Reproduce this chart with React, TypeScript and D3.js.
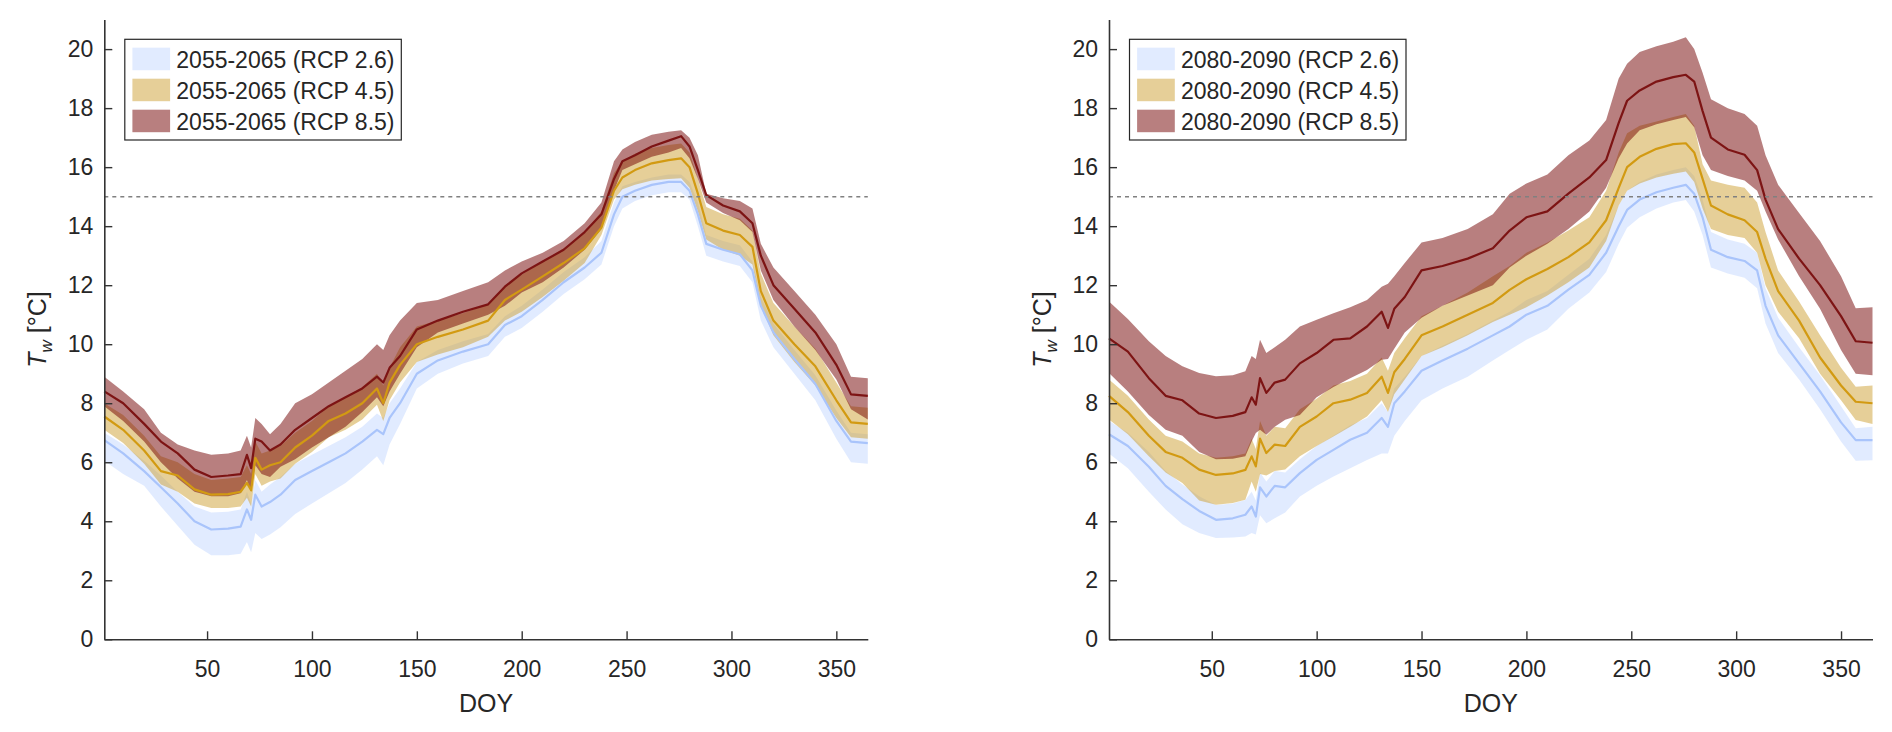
import React, { useEffect, useRef } from 'react';
import * as d3 from 'd3';

// day-of-year sampling shared by every series
const doy = [
  1, 10, 20, 28, 36, 44, 52, 60, 66, 69,
  71, 73, 76, 80, 85, 92, 100, 108, 116, 124,
  131, 134, 137, 142, 150, 160, 172, 184, 192, 200,
  210, 220, 230, 238, 244, 248, 254, 262, 270, 276,
  280, 284, 288, 296, 304, 310, 314, 320, 330, 340,
  350, 357, 365,
];

const xTicks = [50, 100, 150, 200, 250, 300, 350];
const yTicks = [0, 2, 4, 6, 8, 10, 12, 14, 16, 18, 20];
const threshold = 15;

// ---- 2055-2065 ----
const e26Mean = [
  6.75, 6.3, 5.7, 5.15, 4.6, 4.0, 3.72, 3.75, 3.82, 4.4,
  4.05, 4.9, 4.5, 4.65, 4.9, 5.4, 5.7, 6.0, 6.3, 6.7,
  7.1, 6.95, 7.5, 8.0, 9.0, 9.45, 9.75, 10.0, 10.65, 10.95,
  11.5, 12.1, 12.6, 13.1, 14.4, 15.0, 15.2, 15.4, 15.5, 15.5,
  15.2, 14.4, 13.4, 13.2, 13.05, 12.5, 11.3, 10.4, 9.5, 8.65,
  7.4, 6.7, 6.65,
];
const e26Hi = [
  7.0, 6.6, 6.05, 5.55, 5.0, 4.5, 4.3, 4.32, 4.4, 5.0,
  4.6, 5.4, 5.0, 5.25, 5.5, 5.95, 6.25, 6.55, 6.85, 7.2,
  7.65, 7.5, 8.0, 8.5, 9.4, 9.8, 10.1, 10.35, 10.95, 11.3,
  11.85, 12.45, 12.95, 13.5, 14.8, 15.35, 15.5, 15.65, 15.75, 15.75,
  15.5, 14.8, 13.7, 13.5, 13.35, 12.8, 11.6, 10.7, 9.8, 8.95,
  7.75, 7.0, 6.95,
];
const e26Lo = [
  6.05, 5.6, 5.2, 4.5, 3.85, 3.2, 2.85, 2.85, 2.9, 3.3,
  2.95, 3.6, 3.4, 3.55, 3.8, 4.25, 4.6, 4.95, 5.3, 5.75,
  6.2, 5.9, 6.6, 7.3, 8.5, 9.0, 9.35, 9.6, 10.25, 10.55,
  11.1, 11.7, 12.2, 12.7, 14.0, 14.6, 14.85, 15.05, 15.15, 15.15,
  14.9, 14.0, 13.0, 12.8, 12.65, 12.1, 10.8, 9.9, 9.0, 8.1,
  6.8, 6.0, 5.95,
];
const e45Mean = [
  7.55, 7.1, 6.4, 5.7, 5.55, 5.08, 4.9, 4.92, 5.0, 5.3,
  5.05, 6.15, 5.75, 5.9, 6.0, 6.5, 6.9, 7.4, 7.65, 8.0,
  8.5, 8.0, 8.7, 9.3, 10.0, 10.25, 10.5, 10.8, 11.5, 11.85,
  12.3, 12.75, 13.25, 13.95, 15.2, 15.65, 15.9, 16.13, 16.24, 16.3,
  16.0, 15.1, 14.1, 13.85, 13.7, 13.3, 11.8, 10.8, 10.0, 9.25,
  8.1, 7.35, 7.3,
];
const e45Hi = [
  8.0, 7.6, 6.9, 6.2, 6.0, 5.6, 5.4, 5.45, 5.5, 5.9,
  5.6, 6.7, 6.3, 6.4, 6.55, 7.0, 7.4, 7.9, 8.2, 8.55,
  9.0, 8.6, 9.2, 9.9, 10.6, 10.8, 11.05, 11.35, 12.0, 12.35,
  12.8, 13.25, 13.8, 14.5, 15.8, 16.2, 16.45, 16.65, 16.75, 16.8,
  16.5, 15.6, 14.65, 14.4, 14.25, 13.85, 12.4, 11.4, 10.6, 9.85,
  8.7, 7.9, 7.85,
];
const e45Lo = [
  7.1, 6.65, 5.95, 5.25, 5.0, 4.6, 4.45, 4.45, 4.5, 4.8,
  4.5, 5.6, 5.2, 5.35, 5.45, 5.95, 6.35, 6.85, 7.1, 7.45,
  7.95, 7.4, 8.1, 8.7, 9.4, 9.65, 9.9, 10.25, 10.8, 11.1,
  11.6, 12.15, 12.75, 13.7, 14.9, 15.25, 15.4, 15.55, 15.6, 15.62,
  15.3, 14.5, 13.55, 13.2, 13.0, 12.7, 11.3, 10.3, 9.4, 8.6,
  7.5, 6.85, 6.8,
];
const e85Mean = [
  8.4, 8.0, 7.3, 6.7, 6.3, 5.75, 5.5, 5.55, 5.6, 6.25,
  5.8, 6.8, 6.7, 6.4, 6.6, 7.1, 7.5, 7.9, 8.2, 8.5,
  8.9, 8.7, 9.2, 9.6, 10.5, 10.8, 11.1, 11.35, 11.95, 12.4,
  12.8, 13.2, 13.8, 14.4, 15.6, 16.2, 16.4, 16.7, 16.9, 17.05,
  16.7, 15.9, 15.05, 14.7, 14.5, 14.1, 13.0, 12.0, 11.2, 10.4,
  9.3, 8.3, 8.25,
];
const e85Hi = [
  8.9, 8.4, 7.8, 7.0, 6.6, 6.4, 6.25, 6.3, 6.4, 6.9,
  6.5, 7.5, 7.3, 6.95, 7.3, 8.0, 8.3, 8.7, 9.1, 9.5,
  10.0, 9.8, 10.3, 10.8, 11.4, 11.5, 11.8, 12.1, 12.5, 12.8,
  13.1, 13.5, 14.1, 14.8, 16.2, 16.6, 16.85, 17.1, 17.2, 17.25,
  17.0, 16.4, 15.1, 14.95, 14.85, 14.6, 13.4, 12.6, 11.8, 11.0,
  10.0, 8.9, 8.85,
];
const e85Lo = [
  7.9, 7.4, 6.7, 6.0, 5.45, 5.0, 4.85, 4.85, 4.95, 5.4,
  5.0, 5.9, 5.6, 5.5, 5.85, 6.1, 6.5, 6.85, 7.2, 7.7,
  8.2, 7.9, 8.4, 9.0, 9.9, 10.4, 10.7, 11.0, 11.3, 11.75,
  12.1, 12.6, 13.2, 13.9, 15.2, 15.9, 16.1, 16.35, 16.5, 16.65,
  16.3, 15.6, 14.8, 14.45, 14.2, 13.8, 12.5, 11.5, 10.6, 9.8,
  8.8, 7.8, 7.45,
];

// ---- 2080-2090 ----
const l26Mean = [
  6.95, 6.55, 5.85, 5.2, 4.75, 4.35, 4.05, 4.1, 4.22, 4.5,
  4.16, 5.15, 4.84, 5.2, 5.15, 5.63, 6.08, 6.42, 6.76, 7.0,
  7.5, 7.2, 8.0, 8.4, 9.1, 9.45, 9.85, 10.3, 10.6, 11.0,
  11.3, 11.85, 12.35, 13.1, 14.0, 14.55, 14.9, 15.15, 15.3, 15.4,
  15.1, 14.3, 13.2, 12.95, 12.82, 12.5, 11.3, 10.3, 9.35, 8.4,
  7.35, 6.75, 6.75,
];
const l26Hi = [
  7.4, 7.0, 6.35, 5.7, 5.25, 4.85, 4.55, 4.6, 4.72, 5.0,
  4.7, 5.65, 5.35, 5.7, 5.65, 6.1, 6.55, 6.9, 7.25, 7.5,
  8.0, 7.7, 8.5, 8.9, 9.6, 9.95, 10.35, 10.8, 11.1, 11.5,
  11.8, 12.35, 12.9, 13.7, 14.7, 15.2, 15.5, 15.75, 15.9, 16.0,
  15.7, 14.9, 13.8, 13.55, 13.4, 13.1, 11.9, 10.9, 9.9, 8.95,
  7.9, 7.15, 7.2,
];
const l26Lo = [
  6.3, 5.8, 5.0, 4.4, 3.9, 3.6, 3.43, 3.45, 3.48, 3.6,
  3.55, 4.2, 3.93, 4.1, 4.3, 4.84, 5.2, 5.52, 5.8, 6.08,
  6.3, 6.3, 6.9, 7.4, 8.1, 8.5, 8.9, 9.45, 9.8, 10.15,
  10.5, 11.2, 11.75, 12.45, 13.4, 13.95, 14.3, 14.6, 14.8, 14.89,
  14.5, 13.7, 12.6, 12.4, 12.25, 11.9, 10.7, 9.7, 8.8, 7.8,
  6.7, 6.05, 6.07,
];
const l45Mean = [
  8.25, 7.7, 6.9, 6.35, 6.15, 5.75, 5.57, 5.62, 5.74, 6.2,
  5.86, 6.8, 6.31, 6.6, 6.55, 7.2, 7.55, 8.0, 8.12, 8.35,
  8.9, 8.35, 9.05, 9.5, 10.3, 10.6, 11.0, 11.4, 11.84, 12.2,
  12.55, 12.95, 13.45, 14.2, 15.3, 16.0, 16.35, 16.62, 16.78, 16.81,
  16.5, 15.6, 14.7, 14.4, 14.2, 13.8, 12.9, 11.8, 10.8, 9.55,
  8.6, 8.05, 8.0,
];
const l45Hi = [
  8.8, 8.25, 7.45, 6.9, 6.7, 6.3, 6.15, 6.2, 6.3, 6.8,
  6.45, 7.4, 6.9, 7.2, 7.15, 7.8, 8.15, 8.6, 8.75, 9.0,
  9.55, 9.1, 9.7, 10.2, 10.95, 11.3, 11.75, 12.3, 12.65, 13.1,
  13.45, 13.85, 14.3, 15.2, 16.5, 17.15, 17.4, 17.55, 17.7, 17.8,
  17.4, 16.1, 15.55, 15.4, 15.3, 14.8, 13.8, 12.5, 11.45, 10.3,
  9.2, 8.56, 8.6,
];
const l45Lo = [
  7.45, 6.95, 6.2, 5.65, 5.3, 4.7, 4.56, 4.62, 4.73, 5.35,
  5.0, 5.6, 5.55, 5.7, 5.75, 6.2, 6.55, 6.87, 7.2, 7.55,
  8.1, 7.7, 8.3, 8.8, 9.6, 9.9, 10.3, 10.75, 11.0, 11.25,
  11.65, 12.1, 12.6, 13.5, 14.7, 15.2, 15.45, 15.65, 15.78, 15.85,
  15.5, 14.6, 13.9, 13.7, 13.6, 13.1, 12.0, 11.1, 10.2, 9.0,
  8.1, 7.43, 7.3,
];
const l85Mean = [
  10.2, 9.75, 8.85, 8.25, 8.1, 7.65, 7.5, 7.57, 7.7, 8.2,
  7.95, 8.85, 8.35, 8.7, 8.8, 9.35, 9.7, 10.15, 10.2, 10.6,
  11.1, 10.55, 11.2, 11.6, 12.5, 12.65, 12.9, 13.25, 13.85, 14.3,
  14.5, 15.1, 15.65, 16.24, 17.5, 18.25, 18.6, 18.9, 19.05, 19.13,
  18.9, 17.9, 17.0, 16.6, 16.42, 15.9, 14.9, 13.9, 12.9, 12.0,
  10.95, 10.1, 10.05,
];
const l85Hi = [
  11.45, 10.85, 10.1, 9.6, 9.25, 9.02, 8.91, 8.95, 9.08, 9.6,
  9.5, 10.15, 9.7, 9.9, 10.15, 10.6, 10.83, 11.05, 11.25, 11.5,
  11.95, 12.05, 12.3, 12.75, 13.45, 13.6, 13.9, 14.4, 15.1, 15.45,
  15.75, 16.4, 16.9, 17.6, 19.0, 19.5, 19.9, 20.1, 20.25, 20.4,
  20.0, 19.2, 18.3, 18.0, 17.8, 17.4, 16.4, 15.4, 14.45, 13.5,
  12.3, 11.22, 11.25,
];
const l85Lo = [
  9.02, 8.4, 7.6, 7.1, 6.9, 6.35, 6.1, 6.12, 6.2, 6.7,
  6.99, 7.1, 6.93, 7.2, 7.44, 7.6, 8.2, 8.55, 8.85, 9.13,
  9.47, 9.5, 9.85, 10.4, 10.9, 11.3, 11.65, 12.0, 12.6, 13.0,
  13.4, 13.9, 14.5, 15.3, 16.3, 16.8, 17.25, 17.45, 17.6, 17.7,
  17.35, 16.4, 15.9, 15.7, 15.55, 15.2, 14.5, 13.55, 12.3, 11.2,
  9.8, 9.0, 8.95,
];

const scenarios = ['RCP 2.6', 'RCP 4.5', 'RCP 8.5'];
const periods = ['2055-2065', '2080-2090'];

const FONT = '"Liberation Sans", Arial, Helvetica, sans-serif';
const INK = '#262626';
const fills = ['#c4d7ff', '#cd9f31', '#720000'];
const strokes = ['#a9c4fb', '#d29a12', '#7d1414'];

const panels = [
  {
    period: periods[0],
    left: 104.3,
    series: [
      { mean: e26Mean, lo: e26Lo, hi: e26Hi },
      { mean: e45Mean, lo: e45Lo, hi: e45Hi },
      { mean: e85Mean, lo: e85Lo, hi: e85Hi },
    ],
  },
  {
    period: periods[1],
    left: 1109,
    series: [
      { mean: l26Mean, lo: l26Lo, hi: l26Hi },
      { mean: l45Mean, lo: l45Lo, hi: l45Hi },
      { mean: l85Mean, lo: l85Lo, hi: l85Hi },
    ],
  },
];

const width = 1892;
const height = 732;
const plotWidth = 763.5;
const plotTop = 19.6;
const plotBottom = 639.3;

const App: React.FC = () => {
  const ref = useRef<SVGSVGElement>(null);

  useEffect(() => {
    const svg = d3.select(ref.current);
    svg.selectAll('*').remove();

    const y = d3.scaleLinear().domain([0, 21]).range([plotBottom, plotTop]);

    panels.forEach((panel) => {
      const x = d3
        .scaleLinear()
        .domain([1, 365])
        .range([panel.left, panel.left + plotWidth]);
      const g = svg.append('g');

      // shaded ranges
      panel.series.forEach((s, k) => {
        const area = d3
          .area<number>()
          .x((_d, i) => x(doy[i]))
          .y0((_d, i) => y(s.lo[i]))
          .y1((d) => y(d));
        g.append('path')
          .datum(s.hi)
          .attr('d', area)
          .attr('fill', fills[k])
          .attr('fill-opacity', 0.5)
          .attr('stroke', 'none');
      });

      // mean lines
      panel.series.forEach((s, k) => {
        const line = d3
          .line<number>()
          .x((_d, i) => x(doy[i]))
          .y((d) => y(d));
        g.append('path')
          .datum(s.mean)
          .attr('d', line)
          .attr('fill', 'none')
          .attr('stroke', strokes[k])
          .attr('stroke-width', 2.2)
          .attr('stroke-linejoin', 'round');
      });

      // 15 °C threshold
      g.append('line')
        .attr('x1', x(1))
        .attr('x2', x(365))
        .attr('y1', y(threshold))
        .attr('y2', y(threshold))
        .attr('stroke', '#808080')
        .attr('stroke-width', 1.5)
        .attr('stroke-dasharray', '4,4');

      // axes
      const xAxis = g
        .append('g')
        .attr('transform', `translate(0,${y(0)})`)
        .call(d3.axisBottom(x).tickValues(xTicks).tickSizeInner(-8).tickSizeOuter(0).tickPadding(21));
      const yAxis = g
        .append('g')
        .attr('transform', `translate(${x(1)},0)`)
        .call(d3.axisLeft(y).tickValues(yTicks).tickSizeInner(-8).tickSizeOuter(0).tickPadding(11));
      [xAxis, yAxis].forEach((ax) => {
        ax.attr('font-family', FONT).attr('font-size', 23);
        ax.select('.domain').attr('stroke', '#333').attr('stroke-width', 1.6);
        ax.selectAll('.tick line').attr('stroke', '#333').attr('stroke-width', 1.4);
        ax.selectAll('.tick text').attr('fill', INK);
      });

      // axis titles
      g.append('text')
        .attr('x', (x(1) + x(365)) / 2)
        .attr('y', 711.5)
        .attr('text-anchor', 'middle')
        .attr('font-family', FONT)
        .attr('font-size', 25)
        .attr('fill', INK)
        .text('DOY');

      const yl = g
        .append('text')
        .attr('transform', `translate(${x(1) - 58},${(plotTop + plotBottom) / 2}) rotate(-90)`)
        .attr('text-anchor', 'middle')
        .attr('font-family', FONT)
        .attr('font-size', 25)
        .attr('fill', INK);
      yl.append('tspan').attr('font-style', 'italic').text('T');
      yl.append('tspan')
        .attr('font-style', 'italic')
        .attr('font-size', 17)
        .attr('dy', 6)
        .text('w');
      yl.append('tspan').attr('dy', -6).text(' [°C]');

      // legend
      const lx = x(1) + 20.5;
      const ly = 39.3;
      const legend = g.append('g');
      legend
        .append('rect')
        .attr('x', lx)
        .attr('y', ly)
        .attr('width', 276.5)
        .attr('height', 100.7)
        .attr('fill', '#fff')
        .attr('stroke', INK)
        .attr('stroke-width', 1.2);
      scenarios.forEach((name, k) => {
        legend
          .append('rect')
          .attr('x', lx + 7.6)
          .attr('y', ly + 8.4 + k * 31)
          .attr('width', 37.7)
          .attr('height', 22.5)
          .attr('fill', fills[k])
          .attr('fill-opacity', 0.5);
        legend
          .append('text')
          .attr('x', lx + 51.5)
          .attr('y', ly + 29 + k * 31)
          .attr('font-family', FONT)
          .attr('font-size', 23)
          .attr('fill', INK)
          .text(`${panel.period} (${name})`);
      });
    });

    return () => {
      svg.selectAll('*').remove();
    };
  }, []);

  return (
    <svg
      ref={ref}
      width={width}
      height={height}
      viewBox={`0 0 ${width} ${height}`}
      style={{ position: 'absolute', left: 0, top: 0, display: 'block', background: '#fff' }}
    />
  );
};

export default App;
